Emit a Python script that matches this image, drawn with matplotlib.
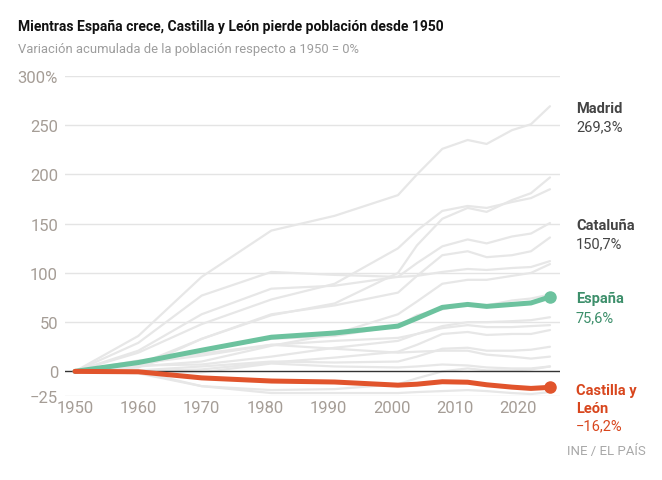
import matplotlib
matplotlib.use("Agg")
import matplotlib.pyplot as plt

# ---- data (percent change vs 1950) ----
years = [1950, 1960, 1970, 1981, 1991, 2001, 2004, 2008, 2012, 2015, 2019, 2022, 2025]

madrid      = [0, 36, 96, 143, 158, 179, 200, 226, 235, 231, 245, 251, 269.3]
baleares    = [0, 4, 33, 57, 69, 100, 128, 155, 166, 162, 174, 181, 197]
canarias    = [0, 19, 48, 73, 89, 125, 143, 163, 168, 166, 172, 176, 185]
cataluna    = [0, 21, 58, 84, 87, 96, 110, 127, 134, 130, 137, 140, 150.7]
valencia    = [0, 7, 33, 58, 67, 80, 97, 118, 122, 116, 118, 122, 136]
pais_vasco  = [0, 29, 77, 101, 98, 96, 97, 101, 104, 103, 105, 106, 112]
murcia      = [0, 5, 10, 26, 38, 58, 71, 89, 93, 93, 97, 100, 109]
navarra     = [0, 5, 22, 33, 36, 46, 57, 63, 68, 67, 72, 74, 78]
andalucia   = [0, 6, 7, 15, 24, 31, 38, 46, 50, 50, 51, 52, 55]
cantabria   = [0, 8, 16, 27, 31, 34, 38, 44, 47, 45, 45, 46, 47]
rioja       = [0, 0, 2, 9, 14, 20, 27, 38, 40, 37, 38, 38, 42]
aragon      = [0, 1, 5, 10, 9, 10, 15, 23, 24, 21, 21, 22, 25]
asturias    = [0, 11, 18, 27, 23, 19, 20, 21, 21, 17, 15, 13, 15]
galicia     = [0, 0, -1, 8, 5, 4, 5, 7, 6, 4, 3, 3, 5]
cmancha     = [0, -2, -15, -19, -18, -13, -7, 0, 3, 1, 1, 2, 5]
extremadura = [0, 0, -15, -22, -22, -22, -21, -20, -19, -20, -22, -23, -21]

espana = [0, 9, 21.5, 34.7, 39, 46, 54, 65, 68, 66, 68, 69.5, 75.6]
cyl    = [0, -0.4, -6.6, -9.8, -10.8, -14, -13, -10.5, -11, -13.6, -16, -17.3, -16.2]

gray_series = [madrid, baleares, canarias, cataluna, valencia, pais_vasco, murcia,
               navarra, andalucia, cantabria, rioja, aragon, asturias, galicia,
               cmancha, extremadura]

yticks = [-25, 0, 50, 100, 150, 200, 250, 300]
ytick_labels = ["\u221225", "0", "50", "100", "150", "200", "250", "300%"]
xticks = [1950, 1960, 1970, 1980, 1990, 2000, 2010, 2020]

title = "Mientras España crece, Castilla y León pierde población desde 1950"
subtitle = "Variación acumulada de la población respecto a 1950 = 0%"
source = "INE / EL PAÍS"

# ---- style ----
W, H = 662, 481
plt.rcParams['font.family'] = ['Roboto', 'DejaVu Sans']

GREEN = '#6cc29e'
GREEN_TXT = '#3d8f6b'
RED = '#e1542c'
RED_TXT = '#d8461d'
TICK = '#a59d96'
DARK = '#444444'

fig = plt.figure(figsize=(W / 100, H / 100), dpi=100)
left, right, top, bottom = 65, 560, 77, 397
ax = fig.add_axes([left / W, 1 - bottom / H, (right - left) / W, (bottom - top) / H])

x0 = 1950 - 10 / 6.333
x1 = 1950 + (right - 75) / 6.333
ax.set_xlim(x0, x1)
ax.set_ylim(-25, 300)

for s in ax.spines.values():
    s.set_visible(False)

for t in yticks:
    if t == 0:
        continue
    ax.axhline(t, color='#e4e4e4', lw=1.0, zorder=0)
ax.axhline(0, color='#333333', lw=1.0, zorder=3)

for s in gray_series:
    ax.plot(years, s, color='#e7e7e7', lw=1.6, zorder=1, solid_capstyle='round',
            solid_joinstyle='round')

ax.plot(years, espana, color=GREEN, lw=3.6, zorder=4, solid_capstyle='round',
        solid_joinstyle='round')
ax.plot(years[-1], espana[-1], 'o', color=GREEN, ms=8, zorder=5, clip_on=False)
ax.plot(years, cyl, color=RED, lw=3.6, zorder=4, solid_capstyle='round',
        solid_joinstyle='round')
ax.plot(years[-1], cyl[-1], 'o', color=RED, ms=8, zorder=5, clip_on=False)

ax.set_yticks(yticks)
ax.set_yticklabels(ytick_labels)
ax.set_xticks(xticks)
ax.set_xticklabels([str(x) for x in xticks])
ax.tick_params(axis='both', length=0, labelsize=12, labelcolor=TICK)
ax.tick_params(axis='y', pad=5)
ax.tick_params(axis='x', pad=3)


def ftext(px, py, s, **kw):
    fig.text(px / W, 1 - py / H, s, va='baseline', **kw)


ftext(18, 30.5, title, fontsize=10.0, fontweight='bold', color='#111111')
ftext(18, 52.5, subtitle, fontsize=9.4, color='#9d9d9d')

lx = 576
ftext(lx, 113, "Madrid", fontsize=10.5, fontweight='bold', color=DARK)
ftext(lx, 131, "269,3%", fontsize=10.5, color=DARK)
ftext(lx, 230, "Cataluña", fontsize=10.5, fontweight='bold', color=DARK)
ftext(lx, 248, "150,7%", fontsize=10.5, color=DARK)
ftext(lx, 303.5, "España", fontsize=10.5, fontweight='bold', color=GREEN_TXT)
ftext(lx, 322, "75,6%", fontsize=10.5, color=GREEN_TXT)
ftext(lx, 395, "Castilla y", fontsize=10.5, fontweight='bold', color=RED_TXT)
ftext(lx, 413, "León", fontsize=10.5, fontweight='bold', color=RED_TXT)
ftext(lx, 430.5, "\u221216,2%", fontsize=10.5, color=RED_TXT)

fig.text(646 / W, 1 - 455 / H, source, ha='right', va='baseline', fontsize=9.5, color='#a8a8a8')

fig.savefig('out.png', dpi=100)
